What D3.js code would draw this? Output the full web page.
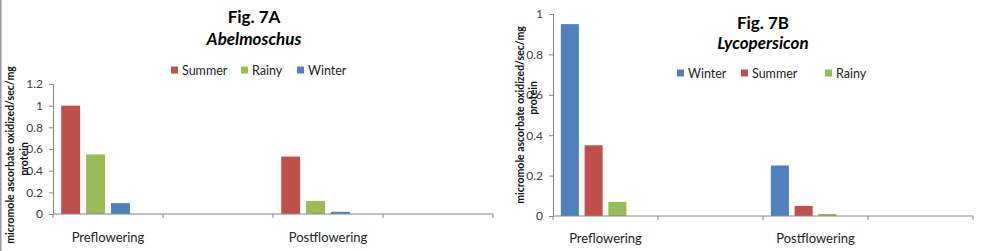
<!DOCTYPE html>
<html><head><meta charset="utf-8">
<script src="https://cdn.jsdelivr.net/npm/d3@7"></script>
<style>
body{margin:0;background:#fff;}
svg{display:block;font-family:Lato,"Open Sans",sans-serif;}
</style></head>
<body>
<svg id="chart" width="992" height="251"></svg>
<script>
// ---- data ----
const categories = ["Preflowering", "", "Postflowering", ""];
const yTicksA = [0, 0.2, 0.4, 0.6, 0.8, 1, 1.2];
const yTicksB = [0, 0.2, 0.4, 0.6, 0.8, 1];
const tickLabelsA = ["0", "0.2", "0.4", "0.6", "0.8", "1", "1.2"];
const tickLabelsB = ["0", "0.2", "0.4", "0.6", "0.8", "1"];
const seriesA = ["Summer", "Rainy", "Winter"];
const summerA = [1.00, null, 0.53, null];
const rainyA  = [0.55, null, 0.12, null];
const winterA = [0.10, null, 0.02, null];
const seriesB = ["Winter", "Summer", "Rainy"];
const winterB = [0.95, null, 0.25, null];
const summerB = [0.35, null, 0.05, null];
const rainyB  = [0.07, null, 0.01, null];
const yTitleLine1 = "micromole ascorbate oxidized/sec/mg";
const yTitleLine2 = "protein";

const colors = {Summer: "#C0504D", Rainy: "#9BBB59", Winter: "#4F81BD"};
const axisColor = "#868686";
const textColor = "#404040";

const svg = d3.select("#chart");
// left frame line
svg.append("line").attr("x1", 0.5).attr("x2", 0.5).attr("y1", 0).attr("y2", 251)
  .attr("stroke", "#9a9a9a").attr("stroke-width", 2);

function panel(cfg) {
  const g = svg.append("g");
  const x = d3.scaleBand().domain(d3.range(categories.length)).range([cfg.x0, cfg.x1]);
  const xs = d3.scaleBand().domain(d3.range(4)).range([0, x.bandwidth()])
    .paddingInner(0.24).paddingOuter(0.33);
  const y = d3.scaleLinear().domain([0, cfg.ymax]).range([cfg.y0, cfg.y1]);

  // bars
  cfg.series.forEach((s, si) => {
    g.append("g").selectAll("rect")
      .data(cfg.values[si].map((v, i) => ({v, i})).filter(d => d.v != null))
      .join("rect")
      .attr("x", d => x(d.i) + xs(si))
      .attr("width", xs.bandwidth())
      .attr("y", d => y(d.v))
      .attr("height", d => y(0) - y(d.v))
      .attr("fill", colors[s]);
  });

  // y axis
  const ya = g.append("g").attr("transform", `translate(${cfg.x0},0)`)
    .call(d3.axisLeft(y).tickValues(cfg.ticks)
      .tickFormat((d, i) => cfg.tickLabels[i]).tickSize(4).tickPadding(6));
  ya.select(".domain").attr("stroke", axisColor);
  ya.selectAll(".tick line").attr("stroke", axisColor);
  ya.selectAll("text").attr("fill", textColor).style("font-size", "12px")
    .style("font-family", "Lato, sans-serif");

  // x axis (baseline + boundary ticks)
  const xg = g.append("g").attr("transform", `translate(0,${cfg.y0})`);
  xg.append("line").attr("x1", cfg.x0).attr("x2", cfg.x1).attr("stroke", axisColor);
  const bounds = d3.range(categories.length + 1).map(i => i < categories.length ? x(i) : cfg.x1);
  xg.selectAll("line.tk").data(bounds).join("line").attr("class", "tk")
    .attr("x1", d => d).attr("x2", d => d).attr("y1", 0).attr("y2", 4)
    .attr("stroke", axisColor);
  xg.selectAll("text").data(categories).join("text")
    .attr("x", (d, i) => x(i) + x.bandwidth() / 2)
    .attr("y", cfg.catY - cfg.y0)
    .attr("text-anchor", "middle")
    .attr("fill", "#222")
    .style("font-size", "13px")
    .text(d => d);

  // y title
  g.append("text")
    .attr("transform", `translate(${cfg.t1x},${cfg.t1y}) rotate(-90)`)
    .attr("text-anchor", "middle").attr("dominant-baseline", "central")
    .style("font-size", "10.5px").style("font-weight", "bold").attr("fill", "#111")
    .text(yTitleLine1);
  g.append("text")
    .attr("transform", `translate(${cfg.t2x},${cfg.t2y}) rotate(-90)`)
    .attr("text-anchor", "middle").attr("dominant-baseline", "central")
    .style("font-size", "10.5px").style("font-weight", "bold").attr("fill", "#111")
    .text(yTitleLine2);

  // titles
  g.append("text").attr("x", cfg.cx).attr("y", cfg.titleY).attr("text-anchor", "middle")
    .style("font-size", "17px").style("font-weight", "bold").attr("fill", "#000")
    .text(cfg.title1);
  g.append("text").attr("x", cfg.cx).attr("y", cfg.subY).attr("text-anchor", "middle")
    .style("font-size", "17px").style("font-weight", "bold").style("font-style", "italic")
    .attr("fill", "#000").text(cfg.title2);

  // legend
  const lg = g.append("g");
  cfg.series.forEach((s, si) => {
    const lx = cfg.legendX[si];
    lg.append("rect").attr("x", lx).attr("y", cfg.legendY - 3.5).attr("width", 7).attr("height", 7)
      .attr("fill", colors[s]);
    lg.append("text").attr("x", lx + 11).attr("y", cfg.legendY).attr("dominant-baseline", "central")
      .style("font-size", "12.5px").attr("fill", "#222").text(s);
  });
}

panel({
  x0: 53, x1: 493, y0: 214, y1: 84, ymax: 1.2,
  ticks: yTicksA, tickLabels: tickLabelsA,
  series: seriesA, values: [summerA, rainyA, winterA],
  catY: 242,
  t1x: 10, t1y: 155, t2x: 24, t2y: 159,
  cx: 254, title1: "Fig. 7A", titleY: 23, title2: "Abelmoschus", subY: 45,
  legendX: [171, 241, 297], legendY: 70
});

panel({
  x0: 553, x1: 973, y0: 216, y1: 14, ymax: 1,
  ticks: yTicksB, tickLabels: tickLabelsB,
  series: seriesB, values: [winterB, summerB, rainyB],
  catY: 243,
  t1x: 520, t1y: 115, t2x: 533, t2y: 98,
  cx: 763, title1: "Fig. 7B", titleY: 29, title2: "Lycopersicon", subY: 49,
  legendX: [677, 741, 825], legendY: 73
});
</script>
</body></html>
